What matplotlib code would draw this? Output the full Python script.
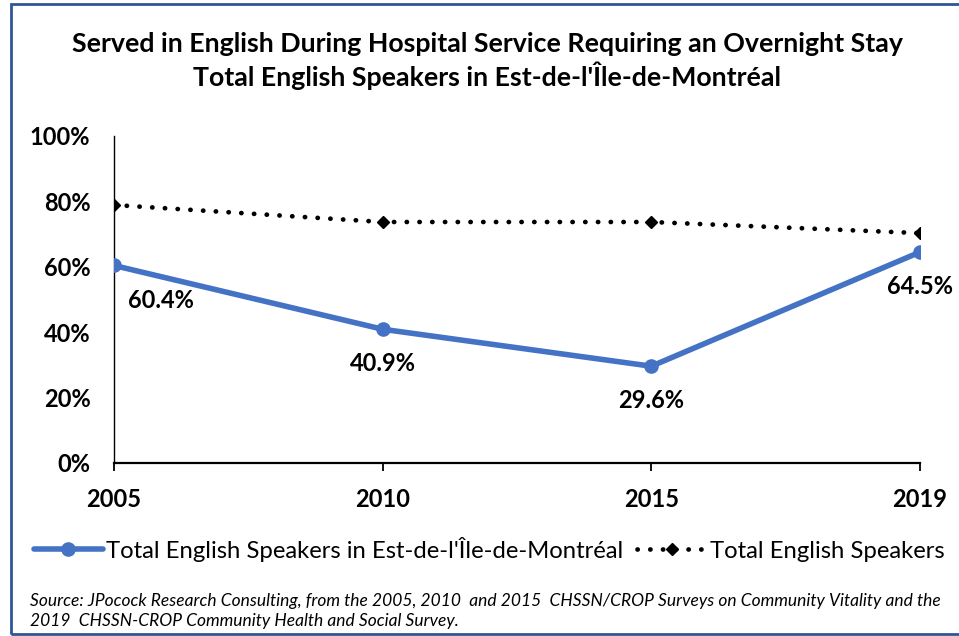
import matplotlib
matplotlib.use("Agg")
import matplotlib.pyplot as plt
from matplotlib.patches import Rectangle

years = ["2005", "2010", "2015", "2019"]
est_montreal = [60.4, 40.9, 29.6, 64.5]
total_english = [78.9, 73.7, 73.7, 70.3]
y_ticks = [0, 20, 40, 60, 80, 100]
y_tick_labels = ["0%", "20%", "40%", "60%", "80%", "100%"]
series_names = ["Total English Speakers in Est-de-l'Île-de-Montréal", "Total English Speakers"]
title_lines = ["Served in English During Hospital Service Requiring an Overnight Stay",
               "Total English Speakers in Est-de-l'Île-de-Montréal"]
source_text = ("Source: JPocock Research Consulting, from the 2005, 2010  and 2015  CHSSN/CROP Surveys on Community Vitality and the\n"
               "2019  CHSSN-CROP Community Health and Social Survey.")

plt.rcParams['font.family'] = ['Lato', 'DejaVu Sans']

fig = plt.figure(figsize=(9.59, 6.36), dpi=100)
ax = fig.add_axes([114/959, 1-463/636, (920-114)/959, (463-136)/636])

x = list(range(len(years)))
blue = "#4472C4"
l1, = ax.plot(x, est_montreal, color=blue, lw=4.0, marker='o', ms=9.5, solid_capstyle='round', zorder=3)
l2, = ax.plot(x, total_english, color='black', lw=3.4, linestyle=(0, (0.05, 2.65)), dash_capstyle='round',
              marker='D', ms=6, zorder=2)

ax.set_xlim(0, 3)
ax.set_ylim(0, 100)
ax.set_yticks(y_ticks)
ax.set_yticklabels(y_tick_labels, fontsize=17, fontweight='bold')
ax.set_xticks(x)
ax.set_xticklabels(years, fontsize=17, fontweight='bold')
ax.tick_params(axis='y', length=0, pad=17)
ax.tick_params(axis='x', direction='out', length=6, width=1.3, pad=12)
for s in ['top', 'right']:
    ax.spines[s].set_visible(False)
ax.spines['left'].set_linewidth(1.0)
ax.spines['bottom'].set_linewidth(1.6)

for i, v in enumerate(est_montreal):
    ha = 'left' if i == 0 else 'center'
    dx = 10 if i == 0 else 0
    ax.annotate(f"{v:.1f}%", (x[i], v), xytext=(dx, -25), textcoords='offset points',
                ha=ha, va='center', fontsize=17, fontweight='bold')

fig.text(487/959, 1-44/636, title_lines[0], ha='center', va='center', fontsize=19.3, fontweight='bold')
fig.text(487/959, 1-76/636, title_lines[1], ha='center', va='center', fontsize=19.3, fontweight='bold')

fig.legend([l1, l2], series_names, loc='center', bbox_to_anchor=(489/959, 1-549/636), ncol=2,
           frameon=False, fontsize=17.2, handlelength=2.9, handletextpad=0.15, columnspacing=0.55,
           borderpad=0, borderaxespad=0)

fig.text(30/959, 1-611/636, source_text, ha='left', va='center', fontsize=12.5, style='italic', linespacing=1.25)

fig.add_artist(Rectangle((11/959, 2/636), 960/959, 630/636, transform=fig.transFigure,
                         fill=False, edgecolor="#2F5597", lw=2))

fig.savefig("out.png", dpi=100)
